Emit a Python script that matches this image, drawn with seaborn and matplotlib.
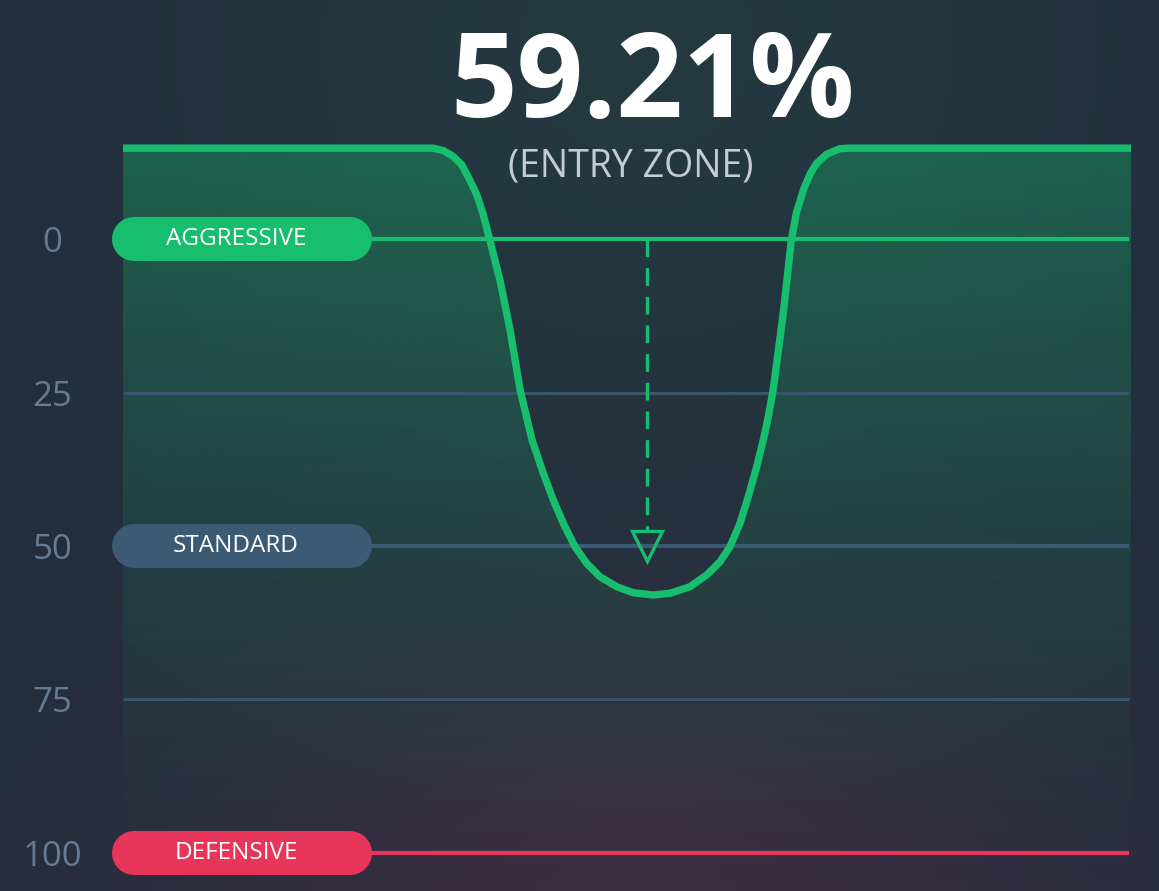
import numpy as np
import pandas as pd
import matplotlib
matplotlib.use("Agg")
import matplotlib.pyplot as plt
import matplotlib.transforms as mtransforms
import seaborn as sns

# ---------------- data ----------------
curve_x = [0, 30.75, 31.8, 32.8, 33.6, 34.4, 35.1, 35.7, 36.4, 37.4, 38.4, 39.4, 40.58, 41.70,
           42.69, 43.68, 44.84, 46.00, 47.32, 48.98, 50.62, 52.61, 54.27, 56.25, 57.91, 59.23,
           60.22, 61.21, 62.03, 62.87, 63.52, 63.95, 64.5, 65.5, 66.3, 66.8, 67.5, 68.2, 68.8,
           69.8, 71.1, 72.1, 100]
curve_y = [-14.8, -14.8, -14.4, -13.4, -12.1, -9.6, -7.2, -4.2, 0.2, 6.7, 14.8, 24.6, 32.74, 38.16,
           42.51, 46.30, 50.11, 52.82, 55.00, 56.63, 57.61, 57.98, 57.70, 56.63, 54.72, 52.56,
           50.11, 46.30, 41.97, 37.08, 32.74, 29.5, 24.6, 12.1, 0.2, -4.2, -8.0, -10.7, -12.3,
           -13.8, -14.7, -14.8, -14.8]

tick_values = [0, 25, 50, 75, 100]
tick_labels = ["0", "25", "50", "75", "100"]

zone_names = ["AGGRESSIVE", "STANDARD", "DEFENSIVE"]
zone_levels = [0, 50, 100]
zone_colors = ["#17be6e", "#3c5a73", "#e8355a"]

grid_levels = [25, 75]
headline_value = "59.21%"
headline_sub = "(ENTRY ZONE)"
marker_x = 51.95
marker_level = 50

# ---------------- style ----------------
sns.set_style("dark")
plt.rcParams["font.family"] = ["Open Sans", "DejaVu Sans"]

W, H, DPI = 1159, 891, 100
fig = plt.figure(figsize=(W / DPI, H / DPI), dpi=DPI)

# background
bg_ax = fig.add_axes([0, 0, 1, 1], zorder=-10)
gy, gx = np.mgrid[0:1:300j, 0:1:300j]
base = np.array([34, 45, 60]) / 255.0
teal = np.array([38, 66, 68]) / 255.0
red = np.array([62, 46, 66]) / 255.0
w_teal = np.exp(-(((gx - 0.55) / 0.45) ** 2 + ((gy - 0.05) / 0.55) ** 2))
w_red = np.exp(-(((gx - 0.55) / 0.45) ** 2 + ((gy - 1.0) / 0.3) ** 2))
img = base[None, None, :] * np.ones((300, 300, 1))
img = img * (1 - 0.55 * w_teal[..., None]) + teal[None, None, :] * 0.55 * w_teal[..., None]
img = img * (1 - 0.85 * w_red[..., None]) + red[None, None, :] * 0.85 * w_red[..., None]
bg_ax.imshow(img, extent=[0, 1, 0, 1], aspect="auto", origin="upper")
bg_ax.set_axis_off()

# main axes
YTOP, YBOT = -20, 105
px0, px100 = 239, 853
ppu = (px100 - px0) / 100.0
top_px = px0 + YTOP * ppu
bot_px = px0 + YBOT * ppu
ax_left = 123 / W
ax_width = (1131 - 123) / W
ax = fig.add_axes([ax_left, 1 - bot_px / H, ax_width, (bot_px - top_px) / H])
ax.set_facecolor("none")
ax.patch.set_alpha(0)
ax.set_xlim(0, 100)
ax.set_ylim(YBOT, YTOP)
for s in ax.spines.values():
    s.set_visible(False)
ax.grid(False)

df = pd.DataFrame({"x": curve_x, "y": curve_y})

# gradient fill under curve
poly = ax.fill_between(df["x"], df["y"], YBOT, color="none", lw=0)
ny = 400
yy = np.linspace(YTOP, YBOT, ny)
alpha = np.clip(0.34 * (1 - (yy - (-15)) / 125.0) ** 1.4, 0, 0.34)
grad = np.zeros((ny, 2, 4))
grad[..., 0] = 23 / 255
grad[..., 1] = 190 / 255
grad[..., 2] = 110 / 255
grad[..., 3] = alpha[:, None]
im = ax.imshow(grad, extent=[0, 100, YBOT, YTOP], aspect="auto", origin="upper", zorder=1)
path = poly.get_paths()[0]
im.set_clip_path(path, transform=ax.transData)

# horizontal level lines
blend = mtransforms.blended_transform_factory(ax.transAxes, ax.transData)
for lv in grid_levels:
    ax.plot([0, 0.998], [lv, lv], transform=blend, color="#3a5569", lw=2.2, zorder=2,
            solid_capstyle="butt")
for lv, c in zip(zone_levels, zone_colors):
    ax.plot([0.2, 0.998], [lv, lv], transform=blend, color=c, lw=3.0, zorder=2,
            solid_capstyle="butt")

# main curve
sns.lineplot(data=df, x="x", y="y", ax=ax, color="#17be6e", lw=5.3, zorder=5,
             sort=False, estimator=None)
ax.lines[-1].set_solid_capstyle("round")
ax.lines[-1].set_solid_joinstyle("round")

# dashed arrow
ax.plot([marker_x, marker_x], [0, marker_level - 2.6], color="#17be6e", lw=2.4,
        linestyle=(0, (5.3, 3.3)), zorder=4, dash_capstyle="butt")
ax.plot([marker_x], [marker_level], marker="v", markersize=22, markerfacecolor="none",
        markeredgecolor="#17be6e", markeredgewidth=2.4, zorder=4)

# pills
for name, lv, c in zip(zone_names, zone_levels, zone_colors):
    ax.plot([(134 - 123) / 1008, (350 - 123) / 1008], [lv, lv], transform=blend,
            color=c, lw=31.7, solid_capstyle="round", zorder=6, clip_on=False)
    ax.text((236 - 123) / 1008, lv, name, transform=blend, ha="center", va="center",
            color="white", fontsize=17.5, zorder=7, clip_on=False)

# y ticks
ax.set_xticks([])
ax.set_yticks(tick_values)
ax.set_yticklabels(tick_labels)
ax.tick_params(axis="y", length=0, pad=51, labelsize=25, labelcolor="#647b91")
for lab in ax.get_yticklabels():
    lab.set_horizontalalignment("center")
ax.set_xlabel("")
ax.set_ylabel("")

# headline
fig.text(653 / W, 1 - 117 / H, headline_value, ha="center", va="baseline",
         fontsize=84, fontweight="bold", color="white")
fig.text(631 / W, 1 - 177 / H, headline_sub, ha="center", va="baseline",
         fontsize=27, color="#c3cbd6")

fig.savefig("out.png", dpi=DPI, facecolor="#222d3c")
